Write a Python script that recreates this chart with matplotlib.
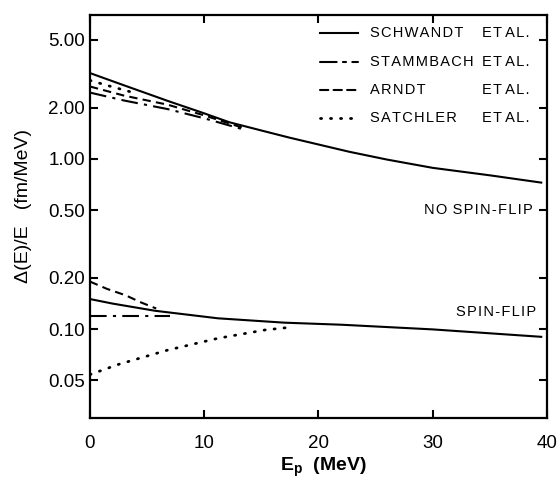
import numpy as np
import matplotlib.pyplot as plt

plt.rcParams['font.family'] = ['Liberation Sans', 'DejaVu Sans']

# upper group (no spin-flip)
e_schw_up = [0, 3, 6.8, 10, 12.2, 15.3, 17.5, 22.7, 26, 30, 35, 39.5]
v_schw_up = [3.19, 2.7, 2.19, 1.85, 1.64, 1.45, 1.33, 1.10, 0.99, 0.885, 0.80, 0.725]
e_stam_up = [0, 3, 6.8, 10, 13.4]
v_stam_up = [2.45, 2.2, 1.96, 1.73, 1.49]
e_arndt_up = [0, 3, 6.8, 10, 13.4]
v_arndt_up = [2.66, 2.35, 2.08, 1.8, 1.52]
e_satch_up = [0, 1.5, 3.5]
v_satch_up = [2.89, 2.7, 2.48]

# lower group (spin-flip)
e_schw_lo = [0, 2, 5.7, 11.2, 17, 22, 30, 39.5]
v_schw_lo = [0.150, 0.141, 0.128, 0.1156, 0.109, 0.106, 0.0995, 0.090]
e_stam_lo = [0, 7]
v_stam_lo = [0.119, 0.119]
e_arndt_lo = [0, 1.5, 3.1, 4.5, 5.8]
v_arndt_lo = [0.19, 0.172, 0.158, 0.143, 0.132]
e_satch_lo = [0, 2.5, 6.8, 11.2, 15.3, 17.3]
v_satch_lo = [0.054, 0.062, 0.0752, 0.0882, 0.0987, 0.102]

names = ['SCHWANDT', 'STAMMBACH', 'ARNDT', 'SATCHLER']
styles = ['-', (0, (8, 3, 1.5, 3)), (0, (4, 2.5)), (0, (0.4, 3.2))]

yticks = [0.05, 0.10, 0.20, 0.50, 1.00, 2.00, 5.00]
xticks = [0, 10, 20, 30, 40]


# the scan's lettering is a little spaced out
def spaced(s, gap=' \u200a'):
    return gap.join('\u200a'.join(w) for w in s.split(' '))


fig = plt.figure(figsize=(5.6, 4.79), dpi=100)
ax = fig.add_axes([0.1607, 0.1273, 0.816, 0.8414])

lw = 1.5
ax.plot(e_schw_up, v_schw_up, color='k', lw=lw, ls=styles[0])
ax.plot(e_stam_up, v_stam_up, color='k', lw=lw, ls=styles[1])
ax.plot(e_arndt_up, v_arndt_up, color='k', lw=lw, ls=styles[2])
ax.plot(e_satch_up, v_satch_up, color='k', lw=2, ls=styles[3], dash_capstyle='round')
ax.plot(e_schw_lo, v_schw_lo, color='k', lw=lw, ls=styles[0])
ax.plot(e_stam_lo, v_stam_lo, color='k', lw=lw, ls=styles[1])
ax.plot(e_arndt_lo, v_arndt_lo, color='k', lw=lw, ls=styles[2])
ax.plot(e_satch_lo, v_satch_lo, color='k', lw=2, ls=styles[3], dash_capstyle='round')

ax.set_yscale('log')
ax.set_xlim(0, 40)
ax.set_ylim(0.03, 7.0)
ax.set_yticks(yticks)
ax.set_yticklabels(['%.2f' % t for t in yticks])
ax.yaxis.set_minor_locator(plt.NullLocator())
ax.set_xticks(xticks)
ax.tick_params(axis='both', which='major', direction='in', length=6, width=1.5,
               labelsize=13.5, top=True, right=True)
ax.tick_params(axis='y', pad=3.5)
ax.tick_params(axis='x', pad=12)
for s in ax.spines.values():
    s.set_linewidth(1.6)

ax.set_ylabel('Δ(E)/E   (fm/MeV)', fontsize=14)
ax.yaxis.set_label_coords(-0.127, 0.526)
ax.set_xlabel(r'E$_\mathregular{p}$  (MeV)', fontsize=14, fontweight='bold')
ax.xaxis.set_label_coords(0.51, -0.093)

# hand-made legend
rows = [0.955, 0.884, 0.814, 0.744]
for name, st, yy in zip(names, styles, rows):
    ax.plot([0.503, 0.586], [yy, yy], transform=ax.transAxes, color='k',
            lw=2 if st == styles[3] else lw, ls=st, dash_capstyle='round')
    ax.text(0.613, yy, spaced(name), transform=ax.transAxes, fontsize=10.5,
            va='center', ha='left')
    ax.text(0.858, yy, spaced('ET AL.', gap=' '), transform=ax.transAxes,
            fontsize=10.5, va='center', ha='left')

ax.text(0.969, 0.516, spaced('NO SPIN-FLIP'), transform=ax.transAxes,
        fontsize=10.5, ha='right', va='center')
ax.text(0.976, 0.263, spaced('SPIN-FLIP'), transform=ax.transAxes,
        fontsize=10.5, ha='right', va='center')

fig.savefig('out.png', dpi=100)
